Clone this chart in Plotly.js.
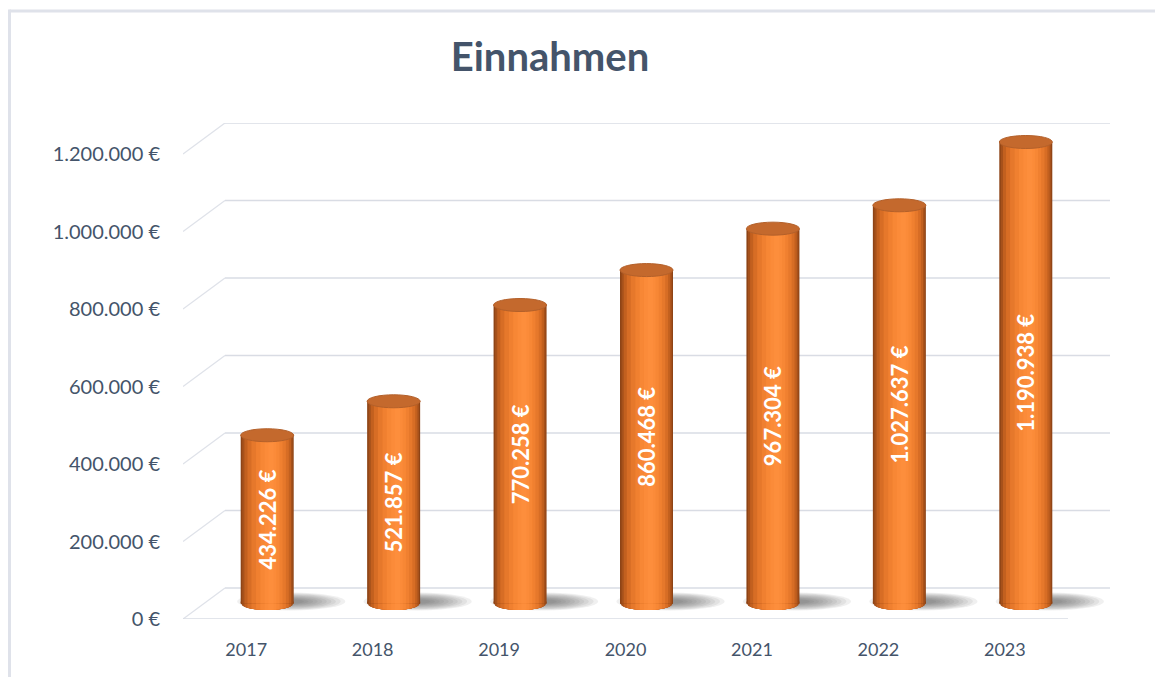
<!DOCTYPE html>
<html>
<head>
<meta charset="utf-8">
<script src="https://cdn.plot.ly/plotly-3.0.1.min.js"></script>
<style>html,body{margin:0;padding:0;background:#fff;}#chart{width:1155px;height:677px;}</style>
</head>
<body>
<div id="chart"></div>
<script>
// ---- data ----
const years = ['2017', '2018', '2019', '2020', '2021', '2022', '2023'];
const revenue = [434226, 521857, 770258, 860468, 967304, 1027637, 1190938];
const tickValues = [0, 200000, 400000, 600000, 800000, 1000000, 1200000];
const titleText = 'Einnahmen';

// ---- helpers ----
function fmtEuro(v) {
  const s = String(Math.round(v));
  return s.replace(/\B(?=(\d{3})+(?!\d))/g, '.') + ' €';
}
const tickLabels = tickValues.map(fmtEuro);

// ---- geometry / style ----
const W = 1155, H = 677, ML = 183, MR = 45, MT = 123, MB = 58;
const plotW = W - ML - MR, plotH = H - MT - MB;
const DEPTH = 40000;            // half depth of the 3D floor in value units
const DX = 0.332;               // horizontal depth offset in category units
const yMax = tickValues[tickValues.length - 1] + 2 * DEPTH;
const pxX = plotW / (7 + DX);
const pxY = plotH / yMax;
const barW = 53 / pxX;
const capRy = 6.5 / pxY;        // ellipse half height in value units
const idx = years.map((_, i) => i);
const gridColor = '#d9dce4';
const fontFam = 'Lato, "Open Sans", sans-serif';
const textColor = '#44546a';

// shading layers: fraction p of nesting, color
const highlight = 0.58;
const layers = [
  [0.00, '#8e4416'], [0.05, '#a6511b'], [0.12, '#c2601f'], [0.22, '#d76d25'],
  [0.35, '#e6782b'], [0.50, '#f08030'], [0.64, '#f78735'], [0.78, '#fb8b39'], [0.90, '#fd8e3c']
];

const traces = [];
const shapes = [];

// border of chart area
const px2paperX = px => (px - ML) / plotW;
const px2paperY = py => (H - MB - py) / plotH;
shapes.push({type: 'line', xref: 'paper', yref: 'paper', x0: px2paperX(9.5), x1: px2paperX(W + 5),
  y0: px2paperY(11), y1: px2paperY(11), line: {color: '#dfe2ea', width: 3}, layer: 'below'});
shapes.push({type: 'line', xref: 'paper', yref: 'paper', x0: px2paperX(9.5), x1: px2paperX(9.5),
  y0: px2paperY(9.5), y1: px2paperY(H + 5), line: {color: '#dfe2ea', width: 3}, layer: 'below'});

// back wall grid lines + left diagonals + front floor edge
const xFront0 = -0.5, xFront1 = years.length - 0.5;
tickValues.forEach(v => {
  shapes.push({type: 'line', xref: 'x', yref: 'y', x0: xFront0 + DX, x1: xFront1 + DX,
    y0: v + 2 * DEPTH, y1: v + 2 * DEPTH, line: {color: gridColor, width: 1.6}, layer: 'below'});
  shapes.push({type: 'line', xref: 'x', yref: 'y', x0: xFront0, x1: xFront0 + DX,
    y0: v, y1: v + 2 * DEPTH, line: {color: '#dfe2e9', width: 1.3}, layer: 'below'});
});
shapes.push({type: 'line', xref: 'x', yref: 'y', x0: xFront0, x1: xFront1,
  y0: 0, y1: 0, line: {color: gridColor, width: 1.6}, layer: 'below'});

// soft shadows (stack of faint ellipses, offset to the right)
idx.forEach(i => {
  const c = i + DX / 2;
  for (let k = 0; k < 10; k++) {
    const f = 1 - k * 0.085;
    shapes.push({type: 'circle', xref: 'x', yref: 'y', xsizemode: 'pixel', ysizemode: 'pixel',
      xanchor: c, yanchor: DEPTH, x0: 24 - 54 * f, x1: 24 + 54 * f, y0: 2 - 9 * f, y1: 2 + 9 * f,
      fillcolor: 'rgba(85,85,85,0.085)', line: {width: 0}, layer: 'below'});
  }
});

// cylinder bodies and bottom caps
layers.forEach(([p, col]) => {
  const fl = highlight * p, fr = 1 - (1 - highlight) * p;
  const width = (fr - fl) * barW;
  const offset = DX / 2 - barW / 2 + fl * barW;
  traces.push({type: 'bar', x: idx, y: revenue, base: DEPTH, width: width, offset: offset,
    marker: {color: col, line: {width: 0}}, hoverinfo: 'skip', showlegend: false});
  idx.forEach(i => {
    const c = i + DX / 2, rx = barW / 2;
    const xl = c - rx + fl * barW, xr = c - rx + fr * barW;
    let d = 'M ' + xl + ',' + (DEPTH + capRy * 0.3);
    const n = 14;
    for (let j = 0; j <= n; j++) {
      const x = xl + (xr - xl) * j / n;
      const t = Math.max(0, 1 - Math.pow((x - c) / rx, 2));
      d += ' L ' + x + ',' + (DEPTH - capRy * Math.sqrt(t));
    }
    d += ' L ' + xr + ',' + (DEPTH + capRy * 0.3) + ' Z';
    shapes.push({type: 'path', xref: 'x', yref: 'y', path: d, fillcolor: col,
      line: {width: 0}, layer: 'below'});
  });
});

// transparent bar carrying the value labels
traces.push({type: 'bar', x: idx, y: revenue, base: DEPTH, width: barW, offset: DX / 2 - barW / 2,
  marker: {color: 'rgba(0,0,0,0)', line: {width: 0}},
  text: revenue.map(fmtEuro), texttemplate: '%{text}', textposition: 'inside',
  insidetextanchor: 'middle', textangle: -90,
  textfont: {family: fontFam, size: 22, color: '#ffffff', weight: 'bold'},
  hoverinfo: 'skip', showlegend: false, cliponaxis: false});

// cylinder tops
idx.forEach(i => {
  shapes.push({type: 'circle', xref: 'x', yref: 'y', ysizemode: 'pixel',
    x0: i + DX / 2 - barW / 2, x1: i + DX / 2 + barW / 2,
    yanchor: DEPTH + revenue[i], y0: -6.5, y1: 6.5,
    fillcolor: '#c4692d', line: {color: '#b3602a', width: 1}, layer: 'above'});
});

const layout = {
  width: W, height: H,
  margin: {l: ML, r: MR, t: MT, b: MB, pad: 0},
  paper_bgcolor: '#ffffff', plot_bgcolor: 'rgba(0,0,0,0)',
  barmode: 'overlay',
  showlegend: false,
  title: {text: titleText, x: 550 / W, xref: 'container', xanchor: 'center',
    y: 1 - 57 / H, yref: 'container', yanchor: 'middle',
    font: {family: fontFam, size: 40, color: textColor, weight: 'bold'}},
  xaxis: {range: [xFront0, xFront1 + DX], tickvals: idx, ticktext: years, showgrid: false,
    zeroline: false, showline: false, ticks: '', ticklabelstandoff: 18, fixedrange: true,
    tickfont: {family: fontFam, size: 18, color: textColor}},
  yaxis: {range: [0, yMax], tickvals: tickValues, ticktext: tickLabels,
    showgrid: false, zeroline: false, showline: false, ticks: '', ticklabelstandoff: 22,
    fixedrange: true, tickfont: {family: fontFam, size: 20, color: textColor}},
  shapes: shapes
};

Plotly.newPlot('chart', traces, layout, {displayModeBar: false, staticPlot: true});
</script>
</body>
</html>
